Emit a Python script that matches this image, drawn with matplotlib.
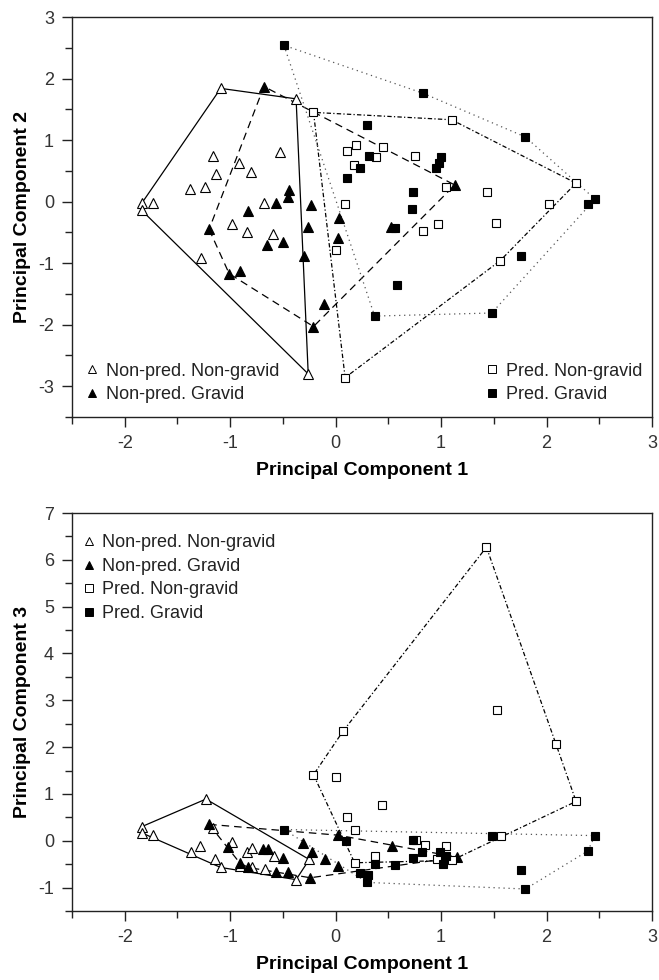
import matplotlib
matplotlib.use("Agg")
import matplotlib.pyplot as plt
from matplotlib.lines import Line2D
from matplotlib.ticker import MultipleLocator

plt.rcParams['font.family'] = ['Liberation Sans', 'DejaVu Sans']
plt.rcParams['axes.unicode_minus'] = False

# ---- panel A: PC1 vs PC2 ----
a_npng_x = [-1.84, -1.73, -1.84, -1.09, -0.375, -1.16, -0.92, -1.13, -0.80, -0.53,
            -1.38, -1.24, -0.68, -0.985, -0.84, -0.59, -1.28, -0.26]
a_npng_y = [-0.03, -0.03, -0.14, 1.84, 1.67, 0.74, 0.63, 0.45, 0.48, 0.80,
            0.20, 0.23, -0.03, -0.36, -0.49, -0.52, -0.91, -2.80]

a_npg_x = [-0.68, -0.44, -0.45, -0.565, -0.83, -0.23, -1.20, -0.26, -0.65, -0.50,
           -0.30, -1.01, -0.91, -0.11, -0.21, 0.03, 0.02, 0.525, 1.13]
a_npg_y = [1.87, 0.19, 0.08, -0.02, -0.15, -0.05, -0.45, -0.41, -0.70, -0.65,
           -0.89, -1.17, -1.12, -1.67, -2.03, -0.26, -0.59, -0.41, 0.27]

a_png_x = [-0.21, 1.10, 0.105, 0.19, 0.45, 0.38, 0.75, 0.175, 1.05, 1.44,
           2.28, 2.02, 0.09, 0.97, 0.83, 1.52, 1.56, 0.00, 0.09]
a_png_y = [1.45, 1.33, 0.82, 0.92, 0.89, 0.72, 0.74, 0.60, 0.24, 0.16,
           0.30, -0.04, -0.04, -0.36, -0.47, -0.35, -0.96, -0.78, -2.86]

a_pg_x = [-0.49, 0.83, 0.30, 1.80, 0.32, 0.23, 0.105, 1.00, 0.98, 0.95,
          0.73, 0.72, 0.56, 1.76, 0.58, 0.37, 1.48, 2.39, 2.46]
a_pg_y = [2.54, 1.76, 1.24, 1.05, 0.74, 0.55, 0.38, 0.72, 0.63, 0.55,
          0.15, -0.12, -0.43, -0.88, -1.36, -1.86, -1.81, -0.04, 0.04]

# ---- panel B: PC1 vs PC3 ----
b_npng_x = [-1.23, -1.84, -1.84, -1.73, -1.37, -1.29, -1.14, -1.09, -0.985, -0.84,
            -0.79, -0.91, -0.79, -0.67, -0.58, -0.375, -0.25, -1.16]
b_npng_y = [0.89, 0.30, 0.17, 0.12, -0.23, -0.11, -0.40, -0.57, -0.03, -0.23,
            -0.15, -0.54, -0.57, -0.61, -0.33, -0.83, -0.40, 0.28]

b_npg_x = [-1.20, -1.02, -0.91, -0.83, -0.69, -0.64, -0.50, -0.565, -0.45, -0.31,
           -0.22, -0.10, 0.02, -0.24, 0.02, 0.53, 1.15]
b_npg_y = [0.35, -0.13, -0.47, -0.57, -0.17, -0.17, -0.36, -0.66, -0.66, -0.04,
           -0.25, -0.40, -0.54, -0.79, 0.12, -0.11, -0.35]

b_png_x = [1.43, 0.07, 1.53, 2.09, 2.28, 1.57, 0.44, 0.11, 0.18, 0.18,
           0.37, 0.85, 0.76, 1.05, 0.96, 1.10, -0.21, 0.00]
b_png_y = [6.27, 2.34, 2.80, 2.06, 0.84, 0.10, 0.76, 0.51, 0.22, -0.47,
           -0.33, -0.08, 0.01, -0.11, -0.40, -0.42, 1.41, 1.37]

b_pg_x = [-0.49, 0.10, 0.23, 0.31, 0.30, 0.37, 0.73, 0.82, 0.73, 0.56,
          0.99, 1.05, 1.02, 1.48, 2.46, 2.39, 1.76, 1.80]
b_pg_y = [0.24, -0.01, -0.69, -0.73, -0.89, -0.50, 0.01, -0.25, -0.36, -0.52,
          -0.25, -0.32, -0.50, 0.11, 0.11, -0.22, -0.63, -1.03]

labels = ['Non-pred. Non-gravid', 'Non-pred. Gravid', 'Pred. Non-gravid', 'Pred. Gravid']


def hull(xs, ys):
    # monotone chain convex hull, returns closed polygon
    pts = sorted(set(zip(xs, ys)))

    def cross(o, a, b):
        return (a[0] - o[0]) * (b[1] - o[1]) - (a[1] - o[1]) * (b[0] - o[0])

    lower, upper = [], []
    for p in pts:
        while len(lower) >= 2 and cross(lower[-2], lower[-1], p) <= 0:
            lower.pop()
        lower.append(p)
    for p in reversed(pts):
        while len(upper) >= 2 and cross(upper[-2], upper[-1], p) <= 0:
            upper.pop()
        upper.append(p)
    h = lower[:-1] + upper[:-1]
    h.append(h[0])
    return [p[0] for p in h], [p[1] for p in h]


styles = [
    dict(marker='^', mfc='white', ms=7.2, ls='-', lc='black'),
    dict(marker='^', mfc='black', ms=7.2, ls=(0, (6, 4)), lc='black'),
    dict(marker='s', mfc='white', ms=6.4, ls=(0, (3.5, 1.8, 1, 1.8)), lc='black'),
    dict(marker='s', mfc='black', ms=6.4, ls=(0, (1, 3)), lc='#555555'),
]


def draw(ax, groups):
    for (xs, ys), st in zip(groups, styles):
        hx, hy = hull(xs, ys)
        ax.plot(hx, hy, ls=st['ls'], color=st['lc'], lw=0.9, zorder=2)
    for (xs, ys), st in zip(groups, styles):
        ax.plot(xs, ys, ls='none', marker=st['marker'], mfc=st['mfc'], mec='black',
                mew=0.8, ms=st['ms'], zorder=3)


def handles(idx):
    out = []
    for i in idx:
        st = styles[i]
        out.append(Line2D([], [], ls='none', marker=st['marker'], mfc=st['mfc'],
                          mec='black', mew=0.7, ms=st['ms'] * 0.8, label=labels[i]))
    return out


def style_axes(ax, ylim, ylabel):
    ax.set_xlim(-2.5, 3)
    ax.set_ylim(*ylim)
    ax.xaxis.set_major_locator(MultipleLocator(1))
    ax.xaxis.set_minor_locator(MultipleLocator(0.5))
    ax.yaxis.set_major_locator(MultipleLocator(1))
    ax.yaxis.set_minor_locator(MultipleLocator(0.5))
    ax.tick_params(which='both', direction='out', top=False, right=False,
                   width=1.0, colors='#222222', labelcolor='#333333', labelsize=13)
    ax.tick_params(which='major', length=7, pad=6)
    ax.tick_params(which='minor', length=5)
    for s in ax.spines.values():
        s.set_linewidth(1.0)
        s.set_color('#222222')
    ax.set_xlabel('Principal Component 1', fontsize=14, fontweight='bold', labelpad=7)
    ax.set_ylabel(ylabel, fontsize=14, fontweight='bold', labelpad=5)


fig = plt.figure(figsize=(6.59, 9.80), dpi=100)
ax1 = fig.add_axes([72 / 659, 1 - 417 / 980, 580 / 659, 400 / 980])
ax2 = fig.add_axes([72 / 659, 1 - 911 / 980, 580 / 659, 398 / 980])

draw(ax1, [(a_npng_x, a_npng_y), (a_npg_x, a_npg_y), (a_png_x, a_png_y), (a_pg_x, a_pg_y)])
draw(ax2, [(b_npng_x, b_npng_y), (b_npg_x, b_npg_y), (b_png_x, b_png_y), (b_pg_x, b_pg_y)])

style_axes(ax1, (-3.5, 3), 'Principal Component 2')
style_axes(ax2, (-1.5, 7), 'Principal Component 3')

leg_kw = dict(frameon=False, fontsize=13, handlelength=0.8, handletextpad=0.35,
              labelspacing=0.36, borderpad=0, borderaxespad=0)
leg1 = ax1.legend(handles=handles([0, 1]), loc='lower left',
                  bbox_to_anchor=(0.022, 0.035), **leg_kw)
for t in leg1.get_texts():
    t.set_color('#222222')
ax1.add_artist(leg1)
leg2 = ax1.legend(handles=handles([2, 3]), loc='lower right',
                  bbox_to_anchor=(0.983, 0.035), **leg_kw)
for t in leg2.get_texts():
    t.set_color('#222222')
leg3 = ax2.legend(handles=handles([0, 1, 2, 3]), loc='upper left',
                  bbox_to_anchor=(0.016, 0.946), **leg_kw)
for t in leg3.get_texts():
    t.set_color('#222222')

fig.savefig('out.png', dpi=100)
